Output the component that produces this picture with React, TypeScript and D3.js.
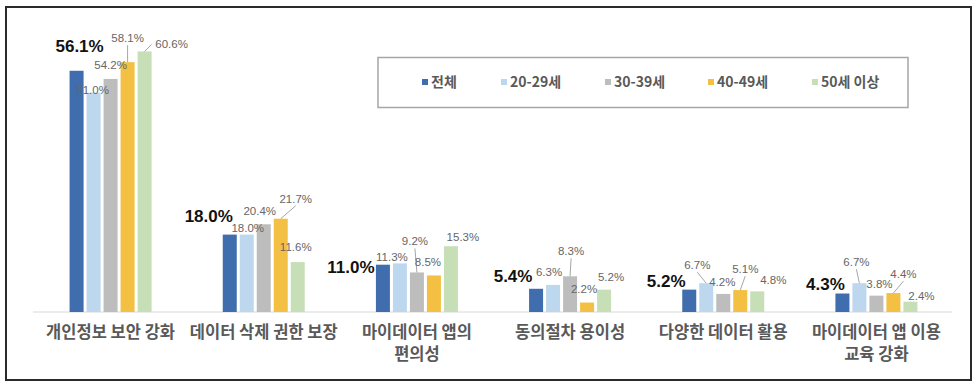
import React from "react";
import * as d3 from "d3";

const categories: string[][] = [
  ["개인정보 보안 강화"],
  ["데이터 삭제 권한 보장"],
  ["마이데이터 앱의", "편의성"],
  ["동의절차 용이성"],
  ["다양한 데이터 활용"],
  ["마이데이터 앱 이용", "교육 강화"],
];
const seriesNames = ["전체", "20-29세", "30-39세", "40-49세", "50세 이상"];
const totalValues = [56.1, 18.0, 11.0, 5.4, 5.2, 4.3];
const age20Values = [51.0, 18.0, 11.3, 6.3, 6.7, 6.7];
const age30Values = [54.2, 20.4, 9.2, 8.3, 4.2, 3.8];
const age40Values = [58.1, 21.7, 8.5, 2.2, 5.1, 4.4];
const age50Values = [60.6, 11.6, 15.3, 5.2, 4.8, 2.4];
const seriesValues = [totalValues, age20Values, age30Values, age40Values, age50Values];

// styling / layout (not data)
const colors = ["#3F6DAD", "#BDD7EE", "#BDBDBD", "#F4C043", "#C7DFB7"];
// manually placed label offsets [dx, dy] from bar top-center, per series per category
const labelNudge: number[][][] = [
  [[3, -25], [-21, -19], [-32, 2], [-23, -13], [-23, -9], [-17, -9]],
  [[-1, -3], [1, -7], [-8, -6], [-4, -13], [-9, -18], [-3, -21]],
  [[0, -14], [-4, -13], [-2, -31], [1, -25], [-1, -12], [3, -12]],
  [[0, -24], [15, -20], [-6, -13], [-3, -14], [5, -21], [10, -19]],
  [[27, -7], [-2, -15], [12, -9], [7, -13], [16, -11], [11, -6]],
];
// which labels have leader lines: [series, category]
const leaderPairs: number[][] = [
  [3, 0], [4, 0], [3, 1], [2, 2], [2, 3], [1, 4], [3, 4], [1, 5], [3, 5],
];
const legendX = [425, 504, 608, 711, 815];

const W = 977;
const H = 386;

export default function App() {
  const x0 = d3
    .scaleBand<number>()
    .domain(categories.map((_, i) => i))
    .range([34, 953]);
  const x1 = d3
    .scaleBand<number>()
    .domain(seriesNames.map((_, i) => i))
    .range([0, 82])
    .paddingInner(3 / 17);
  const y = d3.scaleLinear().domain([0, 70]).range([312, 11]);

  const groupLeft = (ci: number) => x0(ci)! + x0.bandwidth() / 2 - 41;
  const barCx = (si: number, ci: number) => groupLeft(ci) + x1(si)! + x1.bandwidth() / 2;

  const isLeader = (si: number, ci: number) => leaderPairs.some((p) => p[0] === si && p[1] === ci);

  const numFont = "'Liberation Sans', Arial, sans-serif";
  const krFont = "'Noto Sans CJK KR', sans-serif";

  return (
    <svg
      width={W}
      height={H}
      style={{ position: "absolute", left: 0, top: 0, display: "block", background: "#fff" }}
    >
      <rect x={0} y={0} width={W} height={H} fill="#fff" />
      <rect x={6} y={7} width={965} height={373} fill="none" stroke="#2a2a2a" strokeWidth={2} />

      {/* legend */}
      <rect x={378} y={57.5} width={530} height={50} fill="#fff" stroke="#a6a6a6" strokeWidth={1.5} />
      {seriesNames.map((name, si) => (
        <g key={name}>
          <rect x={legendX[si] - 3} y={79} width={6} height={6} fill={colors[si]} />
          <text
            x={legendX[si] + 6}
            y={82}
            dy="0.35em"
            fontFamily={krFont}
            fontSize={14}
            fontWeight={700}
            fill="#595959"
          >
            {name}
          </text>
        </g>
      ))}

      {/* baseline */}
      <line x1={33} x2={952} y1={312} y2={312} stroke="#d9d9d9" strokeWidth={1.2} />

      {/* bars */}
      {seriesValues.map((vals, si) =>
        vals.map((v, ci) => (
          <rect
            key={`b${si}-${ci}`}
            x={groupLeft(ci) + x1(si)!}
            y={y(v)}
            width={x1.bandwidth()}
            height={y(0) - y(v)}
            fill={colors[si]}
          />
        ))
      )}

      {/* leader lines */}
      {seriesValues.map((vals, si) =>
        vals.map((v, ci) => {
          if (!isLeader(si, ci)) return null;
          const bx = barCx(si, ci);
          const by = y(v);
          const [dx, dy] = labelNudge[si][ci];
          const lx = bx + dx;
          const ly = by + dy;
          let ex: number;
          let ey: number;
          if (dx > 20) {
            ex = lx - 20;
            ey = ly;
          } else {
            ex = lx;
            ey = ly + 7;
          }
          return (
            <line
              key={`l${si}-${ci}`}
              x1={bx}
              y1={by}
              x2={ex}
              y2={ey}
              stroke="#a6a6a6"
              strokeWidth={1}
            />
          );
        })
      )}

      {/* value labels */}
      {seriesValues.map((vals, si) =>
        vals.map((v, ci) => {
          const [dx, dy] = labelNudge[si][ci];
          const bold = si === 0;
          return (
            <text
              key={`t${si}-${ci}`}
              x={barCx(si, ci) + dx}
              y={y(v) + dy}
              dy="0.35em"
              textAnchor="middle"
              fontFamily={numFont}
              fontSize={bold ? 17 : 11.5}
              fontWeight={bold ? 700 : 400}
              fill={bold ? "#111" : "#666"}
            >
              {v.toFixed(1)}%
            </text>
          );
        })
      )}

      {/* category labels */}
      {categories.map((lines, ci) =>
        lines.map((ln, li) => (
          <text
            key={`c${ci}-${li}`}
            x={x0(ci)! + x0.bandwidth() / 2}
            y={332 + li * 22}
            dy="0.35em"
            textAnchor="middle"
            fontFamily={krFont}
            fontSize={16.5}
            fontWeight={700}
            fill="#595959"
          >
            {ln}
          </text>
        ))
      )}
    </svg>
  );
}
